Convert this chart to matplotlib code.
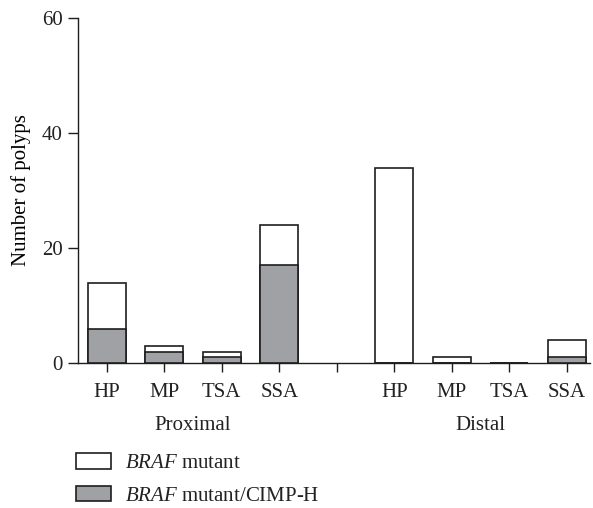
import matplotlib
matplotlib.use('Agg')
import matplotlib.pyplot as plt
import matplotlib.transforms as mtransforms

plt.rcParams['font.family'] = ['Liberation Serif', 'DejaVu Serif']
plt.rcParams['mathtext.fontset'] = 'custom'
plt.rcParams['mathtext.rm'] = 'Liberation Serif'
plt.rcParams['mathtext.it'] = 'Liberation Serif:italic'

# data
tick_labels = ['HP', 'MP', 'TSA', 'SSA', '', 'HP', 'MP', 'TSA', 'SSA']
braf_mutant = [14, 3, 2, 24, None, 34, 1, 0, 4]
braf_cimp_h = [6, 2, 1, 17, None, 0, 0, 0, 1]
groups = ['Proximal', 'Distal']
series_labels = [r'$\it{BRAF}$ mutant', r'$\it{BRAF}$ mutant/CIMP-H']

gray = '#a0a1a5'
edge = '#1e1e1e'

fig = plt.figure(figsize=(5.93, 5.08), dpi=100)
ax = fig.add_axes([0.1315, 0.2854, 0.8634, 0.6791])

pos = [i for i, v in enumerate(braf_mutant) if v is not None]
tot = [v for v in braf_mutant if v is not None]
sub = [v for v in braf_cimp_h if v is not None]

b1 = ax.bar(pos, tot, width=0.66, color='white', edgecolor=edge, linewidth=1.2,
            label=series_labels[0], zorder=2)
b2 = ax.bar(pos, sub, width=0.66, color=gray, edgecolor=edge, linewidth=1.2,
            label=series_labels[1], zorder=3)

ax.set_xlim(-0.5, 8.4)
ax.set_ylim(0, 60)
ax.set_yticks([0, 20, 40, 60])
ax.set_xticks(range(len(tick_labels)))
ax.set_xticklabels(tick_labels)
ax.set_ylabel('Number of polyps', fontsize=15, labelpad=8)

for s in ['top', 'right']:
    ax.spines[s].set_visible(False)
for s in ['left', 'bottom']:
    ax.spines[s].set_linewidth(1.0)
    ax.spines[s].set_color(edge)
ax.tick_params(axis='both', labelsize=15, width=1.0, color=edge,
               labelcolor='#222222')
ax.tick_params(axis='x', length=6.5, pad=8)
ax.tick_params(axis='y', length=7, pad=4)

# group labels under the tick labels
trans = mtransforms.blended_transform_factory(ax.transData, fig.transFigure)
ax.text(1.5, 0.154, groups[0], transform=trans, ha='center', va='baseline',
        fontsize=15, color='#222222')
ax.text(6.5, 0.154, groups[1], transform=trans, ha='center', va='baseline',
        fontsize=15, color='#222222')

fig.legend(handles=[b1, b2], loc='upper left', bbox_to_anchor=(0.128, 0.108),
           frameon=False, fontsize=15, handlelength=1.67, handleheight=0.76,
           handletextpad=0.7, labelspacing=0.62, borderpad=0, borderaxespad=0,
           labelcolor='#222222')

fig.savefig('out.png', dpi=100)
